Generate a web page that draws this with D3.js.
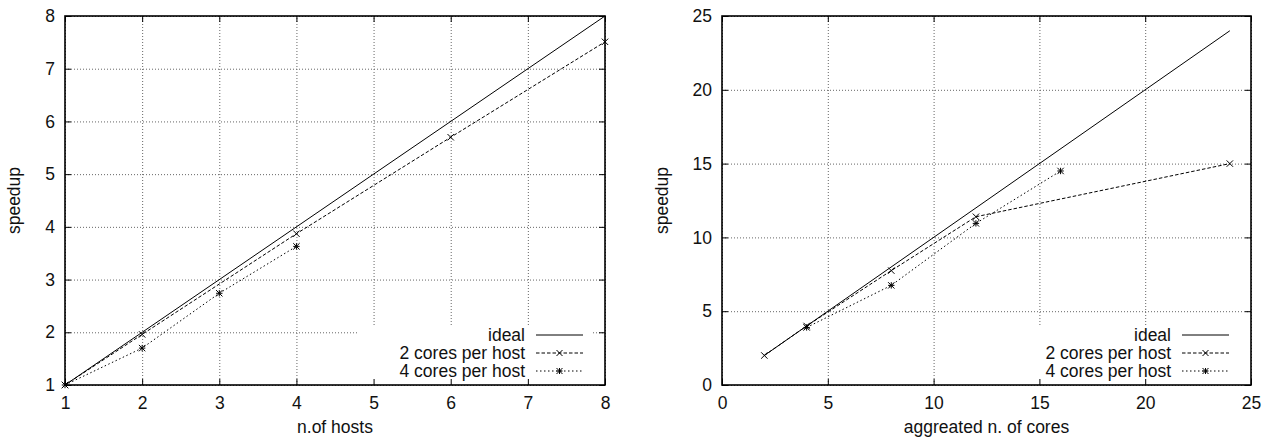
<!DOCTYPE html>
<html>
<head>
<meta charset="utf-8">
<script src="https://cdn.jsdelivr.net/npm/d3@7"></script>
<style>
  body { margin: 0; background: #fff; }
  svg text { font-family: "Liberation Sans", Arial, sans-serif; font-size: 17.5px; fill: #111; }
</style>
</head>
<body>
<div id="chart"></div>
<script>
// left panel: speedup vs n. of hosts
const hostTicks = [1, 2, 3, 4, 5, 6, 7, 8];
const hostSpeedTicks = [1, 2, 3, 4, 5, 6, 7, 8];
const hostsIdeal = [1, 8];
const hosts2 = [1, 2, 4, 6, 8];
const hostSpeedup2 = [1, 1.96, 3.87, 5.70, 7.51];
const hosts4 = [1, 2, 3, 4];
const hostSpeedup4 = [1, 1.70, 2.74, 3.63];

// right panel: speedup vs aggregated cores
const coreTicks = [0, 5, 10, 15, 20, 25];
const coreSpeedTicks = [0, 5, 10, 15, 20, 25];
const coresIdeal = [2, 24];
const cores2 = [2, 4, 8, 12, 24];
const coreSpeedup2 = [2, 4, 7.75, 11.4, 15];
const cores4 = [4, 8, 12, 16];
const coreSpeedup4 = [3.9, 6.75, 10.95, 14.5];

const seriesNames = ["ideal", "2 cores per host", "4 cores per host"];

const svg = d3.select("#chart").append("svg")
    .attr("width", 1275)
    .attr("height", 442);

const styles = [
    { dash: null, marker: null },
    { dash: "3.5,2", marker: "cross" },
    { dash: "1.5,2.5", marker: "star" }
];

const markerPath = (type, r) => {
    const p = d3.path();
    p.moveTo(-r, -r); p.lineTo(r, r);
    p.moveTo(-r, r); p.lineTo(r, -r);
    if (type === "star") {
        p.moveTo(-r, 0); p.lineTo(r, 0);
        p.moveTo(0, -r); p.lineTo(0, r);
    }
    return p.toString();
};

const drawPanel = (cfg) => {
    const g = svg.append("g");
    const x = d3.scaleLinear().domain(cfg.xDomain).range([cfg.left, cfg.right]);
    const y = d3.scaleLinear().domain(cfg.yDomain).range([cfg.bottom, cfg.top]);
    const w = cfg.right - cfg.left, h = cfg.bottom - cfg.top;
    const fmt = d3.format("d");

    // grid
    g.append("g").attr("transform", `translate(0,${cfg.bottom})`)
        .call(d3.axisBottom(x).tickValues(cfg.xTicks).tickSize(-h).tickFormat(""))
        .call(a => a.select(".domain").remove())
        .selectAll("line").attr("stroke", "#666").attr("stroke-dasharray", "1,2");
    g.append("g").attr("transform", `translate(${cfg.left},0)`)
        .call(d3.axisLeft(y).tickValues(cfg.yTicks).tickSize(-w).tickFormat(""))
        .call(a => a.select(".domain").remove())
        .selectAll("line").attr("stroke", "#666").attr("stroke-dasharray", "1,2");

    // key box hides grid
    g.append("rect")
        .attr("x", cfg.keyBox[0]).attr("y", cfg.keyBox[1])
        .attr("width", cfg.right - cfg.keyBox[0] - 12)
        .attr("height", cfg.bottom - cfg.keyBox[1])
        .attr("fill", "#fff");

    // inward ticks on all four sides
    const tick = 6;
    g.append("g").attr("transform", `translate(0,${cfg.bottom})`)
        .call(d3.axisBottom(x).tickValues(cfg.xTicks).tickFormat(fmt).tickSizeInner(-tick).tickSizeOuter(0).tickPadding(12))
        .call(a => a.select(".domain").remove());
    g.append("g").attr("transform", `translate(0,${cfg.top})`)
        .call(d3.axisTop(x).tickValues(cfg.xTicks).tickSizeInner(-tick).tickSizeOuter(0).tickFormat(""))
        .call(a => a.select(".domain").remove());
    g.append("g").attr("transform", `translate(${cfg.left},0)`)
        .call(d3.axisLeft(y).tickValues(cfg.yTicks).tickFormat(fmt).tickSizeInner(-tick).tickSizeOuter(0).tickPadding(10))
        .call(a => a.select(".domain").remove());
    g.append("g").attr("transform", `translate(${cfg.right},0)`)
        .call(d3.axisRight(y).tickValues(cfg.yTicks).tickSizeInner(-tick).tickSizeOuter(0).tickFormat(""))
        .call(a => a.select(".domain").remove());
    g.selectAll(".tick line").filter(function() { return !this.getAttribute("stroke-dasharray"); })
        .attr("stroke", "#000");
    g.selectAll(".tick text").style("font-size", "17.5px").attr("fill", "#111");

    // border
    g.append("rect")
        .attr("x", cfg.left).attr("y", cfg.top).attr("width", w).attr("height", h)
        .attr("fill", "none").attr("stroke", "#000").attr("stroke-width", 1.6);

    // axis labels
    g.append("text")
        .attr("x", (cfg.left + cfg.right) / 2).attr("y", 433)
        .attr("text-anchor", "middle").text(cfg.xLabel);
    g.append("text")
        .attr("transform", `translate(${cfg.yLabelX},${(cfg.top + cfg.bottom) / 2}) rotate(-90)`)
        .attr("text-anchor", "middle").text("speedup");

    // series
    const line = d3.line().x(d => x(d[0])).y(d => y(d[1]));
    cfg.series.forEach((s, i) => {
        const pts = s.xs.map((v, j) => [v, s.ys[j]]);
        g.append("path").datum(pts)
            .attr("d", line)
            .attr("fill", "none").attr("stroke", "#000").attr("stroke-width", 1)
            .attr("stroke-dasharray", styles[i].dash);
        if (styles[i].marker) {
            g.selectAll(null).data(pts).join("path")
                .attr("transform", d => `translate(${x(d[0])},${y(d[1])})`)
                .attr("d", markerPath(styles[i].marker, 3.2))
                .attr("stroke", "#000").attr("stroke-width", 1).attr("fill", "none");
        }
    });

    // key
    seriesNames.forEach((name, i) => {
        const ky = cfg.keyY + i * 18;
        g.append("text")
            .attr("x", cfg.keyTextX).attr("y", ky).attr("dy", "0.35em")
            .attr("text-anchor", "end").text(name);
        g.append("line")
            .attr("x1", cfg.keyTextX + 11).attr("x2", cfg.keyTextX + 58)
            .attr("y1", ky).attr("y2", ky)
            .attr("stroke", "#000").attr("stroke-width", 1)
            .attr("stroke-dasharray", styles[i].dash);
        if (styles[i].marker) {
            g.append("path")
                .attr("transform", `translate(${cfg.keyTextX + 34.5},${ky})`)
                .attr("d", markerPath(styles[i].marker, 3))
                .attr("stroke", "#000").attr("fill", "none");
        }
    });
};

drawPanel({
    left: 65, right: 605, top: 16, bottom: 385,
    xDomain: [1, 8], yDomain: [1, 8],
    xTicks: hostTicks, yTicks: hostSpeedTicks,
    xLabel: "n.of hosts", yLabelX: 20,
    keyBox: [357, 327], keyTextX: 525, keyY: 335,
    series: [
        { xs: hostsIdeal, ys: hostsIdeal },
        { xs: hosts2, ys: hostSpeedup2 },
        { xs: hosts4, ys: hostSpeedup4 }
    ]
});

drawPanel({
    left: 722, right: 1251, top: 16, bottom: 385,
    xDomain: [0, 25], yDomain: [0, 25],
    xTicks: coreTicks, yTicks: coreSpeedTicks,
    xLabel: "aggreated n. of cores", yLabelX: 668,
    keyBox: [1003, 327], keyTextX: 1171, keyY: 335,
    series: [
        { xs: coresIdeal, ys: coresIdeal },
        { xs: cores2, ys: coreSpeedup2 },
        { xs: cores4, ys: coreSpeedup4 }
    ]
});
</script>
</body>
</html>
